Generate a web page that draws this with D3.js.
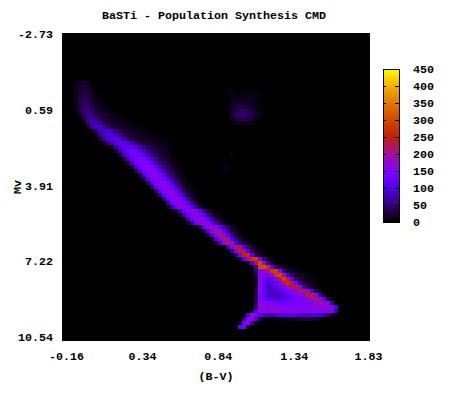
<!DOCTYPE html>
<html>
<head>
<meta charset="utf-8">
<script src="https://d3js.org/d3.v7.min.js"></script>
<style>
  body { margin: 0; background: #fff; }
  text { font-family: "Liberation Mono", monospace; font-weight: bold; font-size: 11.67px; fill: #000; }
</style>
</head>
<body>
<div id="chart"></div>
<script>
// Axis labels as printed on the chart
var bvTicks = [-0.16, 0.34, 0.84, 1.34, 1.83];
var mvTicks = [-2.73, 0.59, 3.91, 7.22, 10.54];
var countTicks = [0, 50, 100, 150, 200, 250, 300, 350, 400, 450];

// Palette stops
var paletteCounts = [0, 30, 50, 100, 130, 150, 200, 225, 250, 300, 350, 400, 450];
var paletteColors = ["#000000", "#200040", "#35007a", "#5000e0", "#7000ff", "#8000ff", "#a0109a", "#b01850", "#c02008", "#d04800", "#e07800", "#f0b000", "#ffff00"];

// Histogram grid: 77 x 77 bins, only the non empty runs are listed
var binCount = 77;

// Main sequence and lower branch, one run per row starting at seqFirstRow
var seqFirstRow = 12;
var seqStarts = [3, 3, 3, 3, 3, 3, 3, 4, 4, 5, 5, 6, 7, 8, 9, 10, 12, 13, 14, 15, 16, 17, 18, 19, 20, 21, 22, 23, 24, 25, 26,
  26, 28, 29, 30, 31, 34, 35, 36, 37, 38, 41, 42, 43, 44, 46, 47, 48, 48, 48, 48, 48, 48, 48, 48, 48, 48, 47, 45, 45, 44, 44];
var seqCounts = [
  [8, 20, 22, 16],
  [10, 22, 26, 22, 10],
  [12, 24, 30, 26, 14, 6],
  [14, 26, 32, 30, 18, 8, 3],
  [14, 28, 36, 34, 24, 12, 6],
  [12, 30, 40, 38, 28, 16, 10, 4],
  [10, 32, 44, 42, 32, 22, 14, 8, 4],
  [28, 48, 50, 38, 28, 20, 14, 8, 5],
  [14, 40, 58, 58, 42, 30, 24, 18, 14, 8, 4],
  [30, 58, 66, 56, 38, 28, 22, 18, 12, 9, 6, 3],
  [10, 44, 70, 78, 60, 40, 28, 22, 18, 14, 11, 8, 5, 3],
  [22, 60, 84, 88, 68, 46, 32, 26, 22, 18, 14, 11, 8, 5, 3],
  [8, 40, 70, 86, 90, 74, 50, 34, 26, 22, 18, 15, 12, 8, 5, 3],
  [18, 54, 80, 94, 98, 84, 60, 38, 28, 24, 20, 17, 14, 10, 7, 4, 2],
  [30, 62, 90, 104, 108, 92, 68, 42, 30, 25, 22, 19, 15, 12, 8, 5, 3],
  [14, 46, 78, 100, 110, 112, 98, 72, 48, 34, 28, 24, 20, 16, 12, 8, 5, 2],
  [22, 60, 92, 112, 120, 118, 100, 76, 52, 36, 28, 24, 20, 15, 11, 6, 3],
  [26, 68, 102, 122, 130, 126, 106, 78, 54, 38, 30, 24, 18, 12, 6, 3],
  [30, 76, 112, 134, 140, 134, 110, 82, 56, 40, 30, 22, 14, 7, 3],
  [30, 80, 120, 142, 148, 142, 114, 82, 56, 40, 28, 20, 10, 4],
  [30, 84, 128, 150, 156, 148, 116, 80, 54, 38, 26, 16, 7, 3],
  [30, 86, 132, 152, 158, 148, 114, 78, 52, 36, 22, 12, 5],
  [32, 90, 136, 154, 158, 146, 110, 74, 48, 32, 18, 9, 4],
  [34, 94, 138, 156, 158, 144, 106, 70, 44, 26, 14, 6, 2],
  [36, 98, 142, 158, 158, 140, 100, 64, 40, 22, 10, 4],
  [38, 104, 146, 158, 158, 136, 94, 58, 34, 16, 7, 3],
  [42, 110, 150, 160, 156, 130, 86, 52, 28, 13, 5],
  [46, 114, 152, 160, 154, 122, 78, 44, 22, 10, 4],
  [50, 118, 154, 160, 152, 116, 70, 38, 18, 6],
  [52, 120, 154, 162, 150, 110, 64, 32, 14, 5],
  [52, 120, 154, 162, 150, 106, 60, 28, 10],
  [18, 60, 122, 156, 162, 150, 104, 58, 28, 12, 4],
  [20, 62, 124, 156, 164, 150, 106, 60, 30, 13, 5],
  [22, 66, 126, 158, 166, 150, 110, 64, 32, 14, 5],
  [22, 66, 128, 160, 168, 152, 114, 68, 36, 16, 6],
  [18, 60, 128, 160, 172, 156, 116, 72, 40, 18, 7],
  [40, 110, 162, 182, 160, 116, 72, 40, 20, 8],
  [34, 104, 166, 196, 172, 114, 64, 34, 18, 8],
  [28, 96, 166, 208, 180, 110, 58, 30, 16, 6],
  [24, 90, 164, 214, 184, 104, 52, 28, 14, 6],
  [20, 84, 162, 222, 190, 100, 50, 26, 12, 5],
  [76, 160, 232, 200, 100, 46, 24, 10, 4],
  [60, 150, 245, 210, 100, 44, 22, 10],
  [40, 130, 250, 262, 110, 44, 20, 8],
  [30, 110, 200, 270, 285, 130, 50, 20, 8],
  [24, 90, 230, 300, 180, 66, 24, 8],
  [14, 70, 300, 310, 270, 110, 44, 22, 14, 8, 4],
  [40, 150, 180, 210, 280, 290, 150, 60, 28, 18, 12, 6, 3],
  [30, 160, 150, 130, 170, 280, 300, 190, 90, 40, 24, 18, 12, 6],
  [20, 160, 140, 110, 120, 150, 240, 290, 230, 110, 48, 26, 20, 14, 8, 3],
  [14, 165, 130, 100, 110, 125, 150, 220, 270, 235, 130, 54, 30, 22, 14, 6],
  [14, 165, 125, 95, 95, 110, 125, 150, 185, 220, 235, 170, 70, 34, 24, 14, 6],
  [30, 160, 120, 90, 85, 90, 105, 120, 140, 160, 175, 210, 215, 180, 90, 36, 16, 6],
  [30, 155, 125, 95, 85, 85, 90, 105, 120, 135, 150, 165, 185, 235, 250, 165, 70, 20, 6],
  [30, 150, 130, 110, 100, 100, 100, 105, 115, 125, 135, 145, 155, 170, 195, 200, 180, 110, 30, 8],
  [40, 165, 160, 150, 145, 135, 125, 125, 130, 135, 140, 145, 150, 155, 160, 175, 185, 180, 150, 50, 6],
  [50, 170, 160, 165, 170, 165, 155, 150, 150, 150, 150, 150, 150, 155, 160, 165, 170, 175, 170, 165, 90],
  [20, 100, 170, 170, 150, 160, 165, 165, 165, 165, 165, 160, 160, 155, 155, 155, 155, 155, 155, 150, 140, 70],
  [10, 90, 165, 150, 110, 90, 70, 70, 90, 100, 105, 110, 110, 100, 90, 90, 85, 90, 90, 85, 70, 45, 20, 6],
  [50, 150, 165, 90, 30, 12, 6, 5, 8, 10, 12, 14, 18, 22, 25, 28, 30, 28, 22, 14, 6],
  [20, 130, 160, 70, 15],
  [110, 130, 20]
];

// Red clump and the few stray bins under it
var clumpRows = [14, 14, 14, 14, 15, 16, 17, 18, 19, 20, 21, 22, 30, 31, 33, 34];
var clumpStarts = [41, 45, 47, 42, 41, 42, 41, 41, 41, 42, 42, 43, 42, 40, 40, 40];
var clumpCounts = [
  [8],
  [10],
  [8],
  [9],
  [5, 10, 8, 5, 8, 12, 8, 10, 6],
  [12, 14, 12, 12, 14, 12, 12],
  [4, 16, 18, 18, 18, 18, 16, 10, 3],
  [3, 18, 26, 30, 28, 24, 20, 8],
  [4, 20, 32, 40, 42, 36, 28, 14, 4, 6],
  [24, 36, 44, 46, 40, 32, 18, 10, 6, 3],
  [14, 28, 34, 36, 32, 26, 10, 4],
  [8, 14, 14, 10, 8],
  [10],
  [8],
  [10, 8],
  [10, 8]
];

// Flatten the runs into one list of cells
var cells = [];
function addRun(row, start, counts) {
  counts.forEach(function(count, i) {
    cells.push({ row: row, col: start + i, count: count });
  });
}
seqCounts.forEach(function(counts, i) { addRun(seqFirstRow + i, seqStarts[i], counts); });
clumpCounts.forEach(function(counts, i) { addRun(clumpRows[i], clumpStarts[i], counts); });

// Page layout
var width = 453;
var height = 394;
var plot = { left: 62, top: 33, right: 370, bottom: 341 };
var bar = { left: 383, right: 399, top: 69, bottom: 222 };

var svg = d3.select("#chart")
  .append("svg")
  .attr("width", width)
  .attr("height", height)
  .style("display", "block");

// Scales for the bins
var colScale = d3.scaleBand().domain(d3.range(binCount)).range([plot.left, plot.right]);
var rowScale = d3.scaleBand().domain(d3.range(binCount)).range([plot.top, plot.bottom]);
var color = d3.scaleLinear().domain(paletteCounts).range(paletteColors);

// The printed labels sit slightly inside the image edges
var xScale = d3.scaleLinear().domain([bvTicks[0], bvTicks[4]]).range([plot.left + 4, plot.right - 2]);
var yScale = d3.scaleLinear().domain([mvTicks[0], mvTicks[4]]).range([plot.top + 1, plot.bottom - 4]);
var barScale = d3.scaleLinear().domain([0, 450]).range([bar.bottom, bar.top]);

// Black background of the image
svg.append("rect")
  .attr("x", plot.left)
  .attr("y", plot.top)
  .attr("width", plot.right - plot.left)
  .attr("height", plot.bottom - plot.top)
  .attr("fill", "#000");

// Histogram cells
svg.append("g")
  .attr("shape-rendering", "crispEdges")
  .selectAll("rect")
  .data(cells)
  .enter()
  .append("rect")
  .attr("x", function(d) { return colScale(d.col); })
  .attr("y", function(d) { return rowScale(d.row); })
  .attr("width", colScale.bandwidth())
  .attr("height", rowScale.bandwidth())
  .attr("fill", function(d) { return color(d.count); });

// X axis
var xAxis = svg.append("g")
  .attr("transform", "translate(0," + plot.bottom + ")")
  .call(d3.axisBottom(xScale).tickValues(bvTicks).tickFormat(d3.format(".2f")).tickSize(0).tickPadding(11));
xAxis.select(".domain").remove();

// Y axis
var yAxis = svg.append("g")
  .attr("transform", "translate(" + plot.left + ",0)")
  .call(d3.axisLeft(yScale).tickValues(mvTicks).tickFormat(d3.format(".2f")).tickSize(0).tickPadding(9));
yAxis.select(".domain").remove();

// Both axes print a plain hyphen for the minus sign
svg.selectAll("g.tick text").text(function() { return d3.select(this).text().replace("\u2212", "-"); });

// Titles
svg.append("text")
  .attr("x", 214)
  .attr("y", 19)
  .attr("text-anchor", "middle")
  .text("BaSTi - Population Synthesis CMD");

svg.append("text")
  .attr("x", 216)
  .attr("y", 380)
  .attr("text-anchor", "middle")
  .text("(B-V)");

svg.append("text")
  .attr("transform", "translate(21,187) rotate(-90)")
  .attr("text-anchor", "middle")
  .text("Mv");

// Colour bar, one strip per pixel
var barPixels = d3.range(bar.top, bar.bottom);
svg.append("g")
  .attr("shape-rendering", "crispEdges")
  .selectAll("rect")
  .data(barPixels)
  .enter()
  .append("rect")
  .attr("x", bar.left)
  .attr("y", function(d) { return d; })
  .attr("width", bar.right - bar.left)
  .attr("height", 1)
  .attr("fill", function(d) { return color(barScale.invert(d + 0.5)); });

var barAxisRight = svg.append("g")
  .attr("transform", "translate(" + bar.right + ",0)")
  .attr("shape-rendering", "crispEdges")
  .call(d3.axisRight(barScale).tickValues(countTicks).tickSize(-4).tickPadding(14));
barAxisRight.select(".domain").remove();
barAxisRight.selectAll("text").attr("text-anchor", "start");

var barAxisLeft = svg.append("g")
  .attr("transform", "translate(" + bar.left + ",0)")
  .attr("shape-rendering", "crispEdges")
  .call(d3.axisLeft(barScale).tickValues(countTicks).tickSize(-3).tickFormat(""));
barAxisLeft.select(".domain").remove();

svg.append("rect")
  .attr("x", bar.left)
  .attr("y", bar.top)
  .attr("width", bar.right - bar.left)
  .attr("height", bar.bottom - bar.top)
  .attr("fill", "none")
  .attr("stroke", "#000")
  .attr("shape-rendering", "crispEdges");
</script>
</body>
</html>
